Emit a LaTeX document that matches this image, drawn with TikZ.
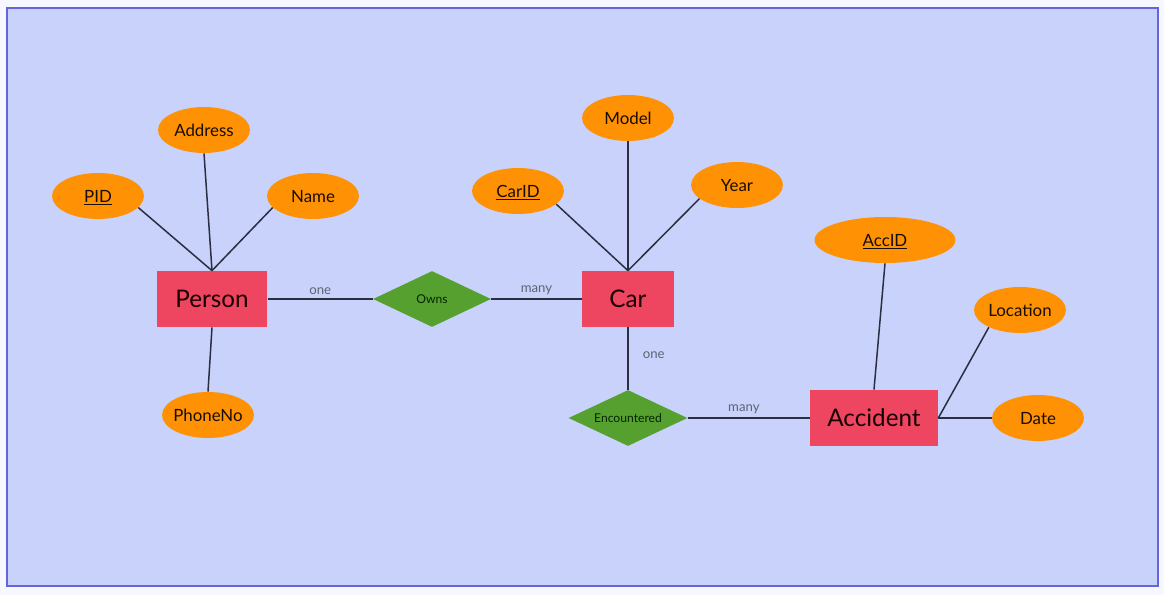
\documentclass[tikz,border=0pt]{standalone}
\usepackage{fontspec}
\setmainfont{Lato}
\usetikzlibrary{shapes.geometric}
\definecolor{bgframe}{HTML}{C8D2FA}
\definecolor{frameline}{HTML}{6464DC}
\definecolor{entityfill}{HTML}{EE4560}
\definecolor{relfill}{HTML}{55A02E}
\definecolor{attrfill}{HTML}{FF9105}
\definecolor{linkcolor}{HTML}{2A2E40}
\definecolor{lblcolor}{HTML}{5E6475}
\newcommand{\entityfont}{\fontsize{13.8}{16}\selectfont}
\newcommand{\attrfont}{\fontsize{9.6}{11}\selectfont}
\newcommand{\relfont}{\fontsize{6.9}{8}\selectfont}
\newcommand{\lblfont}{\fontsize{7.5}{9}\selectfont}

\begin{document}
\begin{tikzpicture}[x=0.02cm,y=-0.02cm,
	entity/.style={rectangle,fill=entityfill,text=black!90!red,font=\entityfont,minimum height=1.12cm,inner sep=0,text depth=0pt},
	rel/.style={diamond,fill=relfill,text=black!85!green,font=\relfont,minimum height=1.12cm,inner sep=0,aspect=2},
	attr/.style={ellipse,fill=attrfill,text=black!90!orange,font=\attrfont,minimum width=1.84cm,minimum height=0.92cm,inner sep=0,inner xsep=-5pt,text depth=0pt},
	link/.style={draw=linkcolor,line width=0.85pt},
	lbl/.style={text=lblcolor,font=\lblfont,inner sep=2pt}]
	% background and frame
	\fill[white!97!blue] (0,0) rectangle (1164,595);
	\draw[fill=bgframe,draw=frameline,line width=1.1pt] (7,8) rectangle (1158,586);
	%% entities
	\node[entity,minimum width=2.22cm] (person) at (212,299) {Person};
	\node[entity,minimum width=1.84cm] (car) at (628,299) {Car};
	\node[entity,minimum width=2.56cm] (accident) at (874,418) {Accident};
	%% relationships
	\node[rel,minimum width=2.36cm] (owns) at (432,299) {Owns};
	\node[rel,minimum width=2.38cm] (encountered) at (628,418) {Encountered};
	%% attributes
	\node[attr] (pid) at (98,196) {\underline{PID}};
	\node[attr] (address) at (204,130) {Address};
	\node[attr] (name) at (313,196) {Name};
	\node[attr] (phoneno) at (208,415) {PhoneNo};
	\node[attr] (carid) at (518,191) {\underline{CarID}};
	\node[attr] (model) at (628,118) {Model};
	\node[attr] (year) at (737,185) {Year};
	\node[attr,minimum width=2.82cm] (accid) at (885,240) {\underline{AccID}};
	\node[attr] (location) at (1020,310) {Location};
	\node[attr] (date) at (1038,418) {Date};
	
	\foreach \a/\ang in {pid/-16,address/-90,name/196} {
		\draw[link] (\a.\ang) -- (person.north);
	}
	\draw[link] (person.south) -- (phoneno.north);
	\foreach \a/\ang in {carid/-19,model/-90,year/200} {
		\draw[link] (\a.\ang) -- (car.north);
	}
	\draw[link] (accid.south) -- (accident.north);
	\draw[link] (location.209) -- (accident.east);
	\draw[link] (accident.east) -- (date);
	
	\draw[link] (person.east) -- node[lbl,above] {one} (owns.west);
	\draw[link] (owns.east) -- node[lbl,above] {many} (car.west);
	\draw[link] (car.south) -- node[lbl,right=6pt,pos=0.44] {one} (encountered.north);
	\draw[link] (encountered.east) -- node[lbl,above,pos=0.46] {many} (accident.west);
\end{tikzpicture}
\end{document}
